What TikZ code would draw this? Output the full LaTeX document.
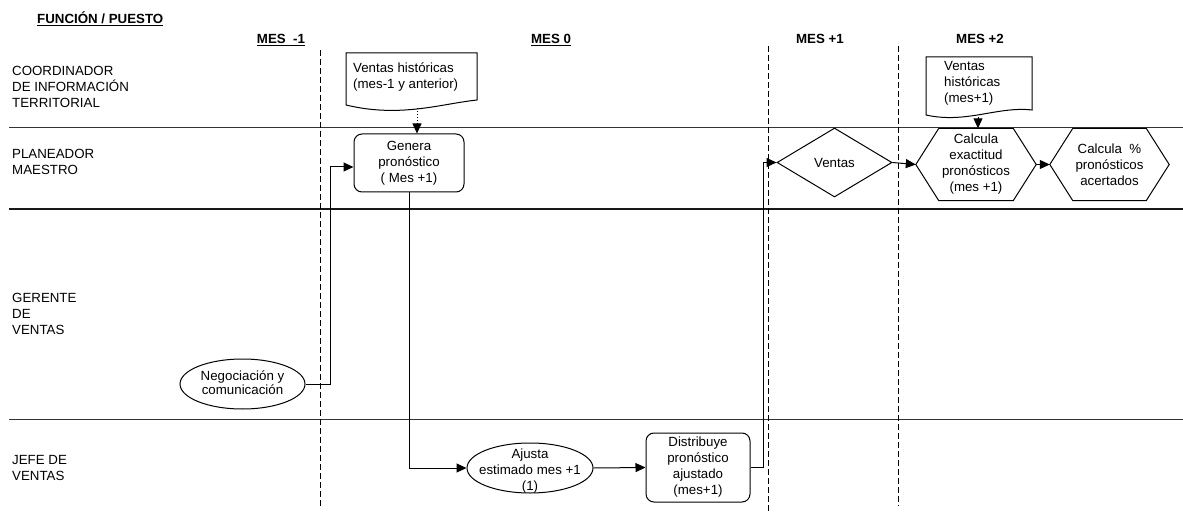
\documentclass[tikz,border=0pt]{standalone}
\usepackage{fontspec}
\setmainfont{Liberation Sans}
\usetikzlibrary{shapes.geometric,arrows.meta,calc}

\begin{document}
\begin{tikzpicture}[x=1pt,y=-1pt,
  every node/.style={font=\fontsize{13.3}{16}\selectfont, inner sep=0pt},
  lane/.style={line width=1pt, draw=black!80},
  lanethick/.style={line width=2pt, draw=black!90},
  period/.style={dash pattern=on 6pt off 3pt, line width=0.9pt},
  link/.style={line width=1pt},
  flow/.style={line width=1pt, -{Triangle[length=10pt,width=9pt]}},
  roundbox/.style={draw, rounded corners=8pt, line width=1pt, align=center},
  oval/.style={draw, ellipse, line width=1pt},
  lbl/.style={align=center},
  head/.style={font=\fontsize{13.3}{16}\selectfont\bfseries},
  role/.style={align=left, anchor=west},
]
\useasboundingbox (0,0) rectangle (1183,513);

% swimlane separators
\draw[lane] (9,128) -- (1183,128);
\draw[lanethick] (9,209) -- (1183,209);
\draw[lane] (9,419) -- (1183,419);

% month separators
\draw[period] (320.7,50) -- (320.7,508);
\draw[period] (768.5,46) -- (768.5,511);
\draw[period] (898.7,46) -- (898.7,506);

% headings
\node[head, anchor=base west] (hdrRole) at (37,23.3) {\underline{FUNCIÓN / PUESTO}};
\node[head, anchor=base] (hdrM1) at (281,43.5) {\underline{MES~~-1}};
\node[head, anchor=base] (hdrM0) at (551,44) {\underline{MES 0}};
\node[head, anchor=base] (hdrP1) at (820,44) {MES +1};
\node[head, anchor=base] (hdrP2) at (980,44) {MES +2};

% roles
\node[role] (roleCIT) at (12,87.3) {COORDINADOR\\DE INFORMACIÓN\\TERRITORIAL};
\node[role] (rolePM) at (12,161.6) {PLANEADOR\\MAESTRO};
\node[role] (roleGV) at (12,314) {GERENTE\\DE\\VENTAS};
\node[role] (roleJV) at (12,468.3) {JEFE DE\\VENTAS};

% historical sales documents
\draw[link] (346,53) -- (477,53) -- (477,100)
  .. controls (440,104) and (400,118) .. (346,105) -- cycle;
\node[role] (hist1) at (353,76.5) {Ventas históricas\\(mes-1 y anterior)};
\coordinate (h1b) at (417,108);

\draw[link] (926,57) -- (1032,57) -- (1032,110)
  .. controls (998,106) and (966,124) .. (926,115) -- cycle;
\node[role] (hist2) at (944,83.5) {Ventas\\históricas\\(mes+1)};
\coordinate (h2b) at (978,117);

% process steps
\node[roundbox, minimum width=110pt, minimum height=58pt] (gen) at (409,163)
  {Genera\\pronóstico\\( Mes +1)};

\node[oval, minimum width=125pt, minimum height=50pt] (neg) at (242.5,384) {};
\node[lbl] (negT) at (242.5,382.5) {Negociación y\\[-2.5pt]comunicación};

\node[oval, minimum width=126pt, minimum height=50pt] (adj) at (530,468) {};
\node[lbl] (adjT) at (530,471) {Ajusta\\estimado mes +1\\(1)};

\node[roundbox, minimum width=104pt, minimum height=69pt] (dist) at (698,467.5)
  {Distribuye\\pronóstico\\ajustado\\(mes+1)};

\node[draw, diamond, line width=1pt, minimum width=115pt, minimum height=69pt]
  (sales) at (834.5,162.5) {Ventas};

\node[minimum width=120pt, minimum height=72pt, align=center] (acc) at (976,164.5)
  {Calcula\\exactitud\\pronósticos\\(mes +1)};
\draw[link] (acc.west) -- ([xshift=23pt]acc.north west) -- ([xshift=-23pt]acc.north east)
  -- (acc.east) -- ([xshift=-23pt]acc.south east) -- ([xshift=23pt]acc.south west) -- cycle;

\node[minimum width=119pt, minimum height=72pt, align=center] (pct) at (1109.5,164.5)
  {Calcula~~\%\\pronósticos\\acertados};
\draw[link] (pct.west) -- ([xshift=23pt]pct.north west) -- ([xshift=-23pt]pct.north east)
  -- (pct.east) -- ([xshift=-23pt]pct.south east) -- ([xshift=23pt]pct.south west) -- cycle;

% connectors
\draw[flow, dotted, line width=0.7pt] (h1b) -- (h1b |- gen.north);
\draw[flow] (h2b) -- (h2b |- acc.north);
\draw[flow] (neg.east) -- ++(24.5,0) |- ([yshift=-4pt]gen.west);
\draw[flow] (gen.south) |- (adj.west);
\draw[flow] (adj.east) -- (dist.west);
\draw[flow] (dist.east) -- ++(13,0) |- (sales.west);
\draw[flow] (sales.east) -- (acc.west);
\draw[flow] (acc.east) -- (pct.west);
\end{tikzpicture}
\end{document}
